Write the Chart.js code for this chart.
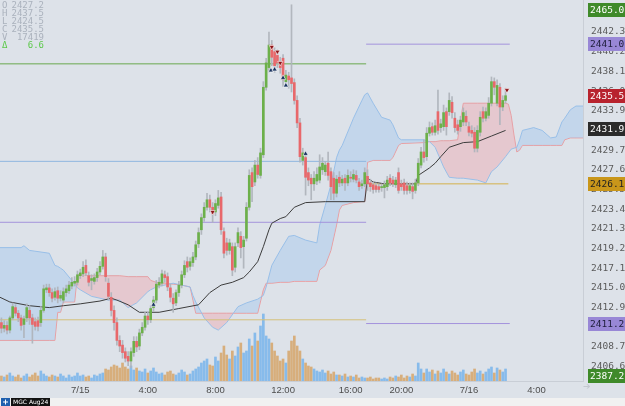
<!DOCTYPE html>
<html>
<head>
<meta charset="utf-8">
<script src="https://cdn.jsdelivr.net/npm/chart.js@4.4.1/dist/chart.umd.min.js"></script>
<style>
  html, body { margin: 0; padding: 0; background: #dde2e9; }
</style>
</head>
<body>
<canvas id="chart" width="625" height="406"></canvas>
<script>
// 10 minute bars, slot 0 = 7/14 19:20, slot 130 = 18:00 after the break
const tickSlots = [28, 52, 76, 100, 124, 142, 166, 190];
const tickLabels = ['7/15', '4:00', '8:00', '12:00', '16:00', '20:00', '7/16', '4:00'];
const priceTicks = [2406.6, 2408.7, 2410.8, 2412.9, 2415.0, 2417.1, 2419.2, 2421.3, 2423.4, 2425.5,
  2427.6, 2429.7, 2431.8, 2433.9, 2436.0, 2438.1, 2440.2, 2442.3, 2444.4];

const opens = [
  2411.3, 2410.7, 2411.0, 2410.5, 2411.8, 2412.9, 2412.3, 2411.8, 2411.1, 2411.8,
  2412.6, 2411.8, 2411.4, 2411.5, 2411.3, 2412.6, 2414.8, 2415.0, 2414.5, 2414.0,
  2414.7, 2413.9, 2413.7, 2414.5, 2414.7, 2415.2, 2415.5, 2415.6, 2416.3, 2416.5,
  2417.4, 2416.3, 2415.8, 2415.7, 2416.1, 2416.7, 2417.3, 2418.3, 2415.5, 2414.0,
  2412.6, 2411.3, 2409.4, 2408.9, 2408.2, 2407.7, 2407.2, 2408.1, 2409.3, 2408.8,
  2410.2, 2410.8, 2412.0, 2411.6, 2412.9, 2413.7, 2415.3, 2415.5, 2416.4, 2416.2,
  2415.0, 2413.9, 2413.4, 2414.5, 2415.3, 2416.4, 2417.8, 2417.3, 2417.7, 2418.3,
  2419.7, 2421.2, 2422.5, 2423.6, 2424.4, 2423.6, 2423.1, 2423.8, 2424.7, 2421.0,
  2419.8, 2419.0, 2419.4, 2417.2, 2419.8, 2420.5, 2419.4, 2420.3, 2423.6, 2427.3,
  2426.3, 2428.1, 2427.0, 2429.2, 2436.4, 2438.5, 2440.9, 2440.2, 2439.8, 2439.1,
  2439.5, 2437.0, 2437.6, 2437.4, 2436.9, 2435.0, 2432.6, 2428.6, 2428.9, 2427.3,
  2426.7, 2426.1, 2426.4, 2426.5, 2427.6, 2427.4, 2428.3, 2427.4, 2426.7, 2425.1,
  2426.8, 2426.2, 2426.7, 2426.2, 2426.8, 2426.6, 2427.0, 2426.3, 2425.9, 2426.1,
  2426.9, 2426.2, 2426.0, 2425.9, 2425.8, 2425.7, 2425.7, 2425.8, 2426.7, 2426.5,
  2426.0, 2427.3, 2426.1, 2426.2, 2425.9, 2425.4, 2425.8, 2425.4, 2426.2, 2428.1,
  2429.5, 2429.0, 2431.5, 2432.2, 2431.6, 2433.8, 2432.1, 2432.2, 2433.8, 2433.8,
  2434.8, 2433.1, 2432.4, 2432.2, 2432.7, 2433.3, 2432.2, 2431.8, 2431.6, 2429.9,
  2431.6, 2433.8, 2433.1, 2433.4, 2434.7, 2437.0, 2434.7, 2436.4, 2434.3, 2435.0
];
const highs = [
  2411.8, 2411.5, 2411.4, 2412.0, 2413.4, 2413.2, 2412.6, 2412.1, 2412.0, 2413.3,
  2413.1, 2412.2, 2411.8, 2411.9, 2413.0, 2415.3, 2415.4, 2415.4, 2414.9, 2415.0,
  2415.1, 2414.7, 2415.0, 2415.3, 2415.7, 2416.1, 2416.2, 2416.8, 2417.0, 2417.8,
  2418.0, 2416.7, 2416.4, 2416.5, 2417.1, 2417.8, 2419.0, 2418.7, 2416.0, 2414.5,
  2413.1, 2411.8, 2409.9, 2409.4, 2408.6, 2408.2, 2408.6, 2409.8, 2409.8, 2410.6,
  2411.3, 2412.4, 2412.4, 2413.1, 2414.1, 2415.8, 2416.1, 2416.9, 2416.8, 2416.6,
  2415.4, 2414.4, 2414.8, 2415.7, 2416.8, 2417.9, 2418.3, 2418.2, 2418.8, 2420.0,
  2421.4, 2422.9, 2424.1, 2425.1, 2424.9, 2424.1, 2424.4, 2425.4, 2425.2, 2421.4,
  2420.3, 2420.2, 2419.8, 2419.8, 2421.4, 2421.0, 2420.5, 2424.1, 2427.6, 2427.8,
  2428.6, 2428.9, 2429.9, 2437.0, 2439.5, 2442.3, 2441.4, 2440.6, 2440.4, 2439.6,
  2439.9, 2438.2, 2438.0, 2445.2, 2437.3, 2435.5, 2433.1, 2429.9, 2429.3, 2427.8,
  2427.1, 2427.4, 2427.8, 2429.2, 2428.9, 2428.5, 2429.5, 2427.8, 2427.3, 2427.0,
  2427.4, 2427.0, 2427.1, 2427.6, 2427.4, 2427.6, 2427.5, 2426.7, 2426.5, 2427.8,
  2427.6, 2426.6, 2426.3, 2426.2, 2426.1, 2426.1, 2426.4, 2426.9, 2427.1, 2426.9,
  2426.8, 2427.8, 2426.5, 2426.6, 2426.3, 2426.2, 2426.2, 2426.6, 2428.8, 2430.0,
  2430.8, 2432.1, 2432.7, 2432.6, 2432.9, 2436.1, 2433.0, 2434.5, 2434.2, 2435.8,
  2435.4, 2433.7, 2432.9, 2433.3, 2434.2, 2433.9, 2432.7, 2432.3, 2432.1, 2432.3,
  2433.8, 2434.3, 2434.2, 2435.3, 2437.5, 2437.4, 2437.2, 2436.8, 2435.5, 2436.3
];
const lows = [
  2410.2, 2410.3, 2410.1, 2410.2, 2411.6, 2412.0, 2411.4, 2410.5, 2409.7, 2411.4,
  2411.1, 2409.1, 2410.5, 2410.4, 2410.9, 2412.4, 2414.5, 2414.1, 2413.5, 2413.7,
  2413.4, 2413.6, 2413.4, 2414.1, 2414.4, 2414.9, 2415.2, 2415.3, 2416.0, 2416.2,
  2416.3, 2415.2, 2414.8, 2415.4, 2415.7, 2416.4, 2417.0, 2415.7, 2413.7, 2412.0,
  2410.5, 2408.9, 2408.2, 2407.5, 2407.1, 2406.7, 2406.5, 2407.7, 2408.2, 2408.4,
  2409.9, 2410.5, 2411.1, 2411.3, 2412.5, 2413.4, 2415.0, 2415.2, 2415.6, 2414.7,
  2413.5, 2412.4, 2413.1, 2414.1, 2415.0, 2416.1, 2416.7, 2416.9, 2417.3, 2418.0,
  2419.3, 2420.7, 2422.1, 2423.3, 2423.1, 2422.0, 2422.7, 2423.5, 2420.7, 2418.2,
  2418.5, 2418.6, 2416.3, 2416.7, 2419.4, 2418.2, 2417.1, 2420.0, 2423.3, 2424.2,
  2425.9, 2426.7, 2426.7, 2428.9, 2436.1, 2438.0, 2438.7, 2438.0, 2438.5, 2437.9,
  2436.5, 2436.5, 2436.3, 2435.9, 2434.6, 2432.1, 2428.4, 2428.1, 2424.9, 2425.9,
  2424.4, 2425.4, 2426.0, 2426.2, 2427.1, 2427.0, 2426.5, 2424.4, 2424.4, 2424.7,
  2425.8, 2425.9, 2425.4, 2425.9, 2426.3, 2426.3, 2426.2, 2425.4, 2425.6, 2425.8,
  2425.4, 2425.3, 2425.1, 2425.2, 2425.2, 2425.3, 2424.6, 2425.4, 2425.9, 2425.8,
  2425.7, 2425.1, 2425.4, 2425.0, 2425.0, 2425.1, 2424.5, 2425.1, 2425.9, 2427.8,
  2428.4, 2428.6, 2431.2, 2431.3, 2431.3, 2431.4, 2431.6, 2431.8, 2431.3, 2433.4,
  2433.1, 2431.6, 2431.4, 2431.7, 2432.3, 2432.3, 2431.2, 2431.1, 2429.5, 2429.5,
  2431.2, 2432.7, 2432.8, 2433.1, 2434.4, 2435.6, 2434.4, 2432.4, 2433.9, 2434.7
];
const closes = [
  2410.7, 2411.0, 2410.5, 2411.8, 2413.0, 2412.3, 2411.8, 2411.0, 2411.7, 2412.9,
  2411.8, 2411.1, 2410.9, 2410.9, 2412.6, 2414.9, 2415.0, 2414.5, 2413.9, 2414.6,
  2413.9, 2414.2, 2414.6, 2414.9, 2415.3, 2415.6, 2415.7, 2416.4, 2416.6, 2417.2,
  2416.6, 2415.6, 2416.0, 2416.1, 2416.7, 2417.3, 2418.3, 2416.2, 2414.1, 2412.6,
  2411.3, 2409.4, 2408.8, 2408.1, 2407.5, 2407.2, 2408.2, 2409.3, 2408.7, 2410.2,
  2410.8, 2412.0, 2411.6, 2412.8, 2413.7, 2415.4, 2415.6, 2416.5, 2416.1, 2415.1,
  2414.0, 2413.3, 2414.5, 2415.3, 2416.4, 2417.4, 2417.2, 2417.8, 2418.3, 2419.6,
  2420.9, 2422.5, 2423.6, 2424.4, 2423.6, 2422.9, 2424.0, 2424.6, 2421.2, 2418.7,
  2419.0, 2419.8, 2416.9, 2419.4, 2420.9, 2419.3, 2420.1, 2423.6, 2427.0, 2425.8,
  2428.1, 2427.1, 2429.4, 2436.4, 2439.0, 2440.9, 2439.6, 2438.7, 2439.0, 2438.5,
  2437.2, 2437.7, 2437.2, 2436.8, 2435.0, 2432.6, 2429.0, 2429.4, 2426.8, 2426.5,
  2426.1, 2426.7, 2427.1, 2427.9, 2428.3, 2428.1, 2427.0, 2425.8, 2425.1, 2426.6,
  2426.2, 2426.6, 2426.2, 2427.0, 2426.7, 2427.1, 2426.5, 2425.8, 2426.1, 2427.3,
  2426.1, 2425.8, 2425.5, 2425.5, 2425.5, 2425.8, 2426.0, 2426.5, 2426.2, 2426.1,
  2426.5, 2425.4, 2425.8, 2425.4, 2425.4, 2425.9, 2425.3, 2426.2, 2428.3, 2429.5,
  2428.9, 2431.5, 2432.1, 2431.6, 2432.3, 2431.8, 2432.5, 2433.7, 2432.2, 2435.0,
  2433.7, 2432.1, 2431.8, 2432.9, 2433.7, 2432.7, 2431.6, 2431.5, 2429.9, 2431.8,
  2433.2, 2433.1, 2433.8, 2434.7, 2437.0, 2436.4, 2436.6, 2434.3, 2435.0, 2435.5
];
const volumes = [
  100, 80, 120, 160, 100, 80, 120, 60, 100, 140,
  80, 120, 160, 100, 200, 140, 100, 80, 120, 100,
  80, 140, 100, 60, 120, 80, 100, 160, 100, 120,
  80, 100, 60, 120, 100, 140, 160, 240, 220, 280,
  320, 300, 260, 360, 280, 240, 300, 220, 260, 200,
  180, 240, 160, 200, 260, 180, 140, 160, 120, 180,
  200, 140, 120, 160, 220, 180, 120, 140, 200, 240,
  280, 360, 400, 440, 320, 300, 480, 400, 560, 700,
  520, 440, 600, 500, 680, 760, 560, 600, 840, 700,
  960, 800, 1100, 1340, 900, 840, 760, 600, 500, 400,
  440, 360, 600, 800, 900, 700, 600, 440, 360, 300,
  280, 240, 200, 180, 220, 160, 200, 140, 180, 120,
  120, 100, 140, 80, 100, 80, 120, 60, 80, 60,
  60, 80, 40, 60, 60, 40, 60, 40, 80, 60,
  100, 80, 120, 60, 100, 80, 140, 100, 360, 240,
  160, 240, 180, 220, 140, 200, 160, 240, 180, 140,
  200, 160, 120, 180, 220, 140, 120, 180, 240, 160,
  200, 140, 180, 240, 280, 160, 260, 220, 180, 240
];

// Ichimoku cloud (shifted 26 bars ahead), read at its corners
const cloudSlots = [-0.5, 7, 8, 10, 17, 19, 20, 21, 22, 25, 26, 27, 28, 32, 38, 42, 45, 48, 52, 53, 55, 61, 64, 67, 68, 69,
  72, 75, 77, 80, 84, 87, 90, 91, 93, 94, 96, 99, 102, 104, 108, 112, 113, 115, 117, 119, 120, 121, 125, 128, 129,
  130, 132, 135, 138, 139, 141, 142, 150, 152, 154, 156, 157, 159, 162, 163, 164, 169, 172, 174, 176, 179, 180,
  181, 182, 183, 184, 185, 189, 192, 195, 197, 199, 200, 202, 204, 206.5];
const spanA = [2419.3, 2419.3, 2419.5, 2419.0, 2418.7, 2417.4, 2417.3, 2417.1, 2416.9, 2415.8, 2415.5, 2415.0, 2414.8,
  2414.1, 2413.7, 2413.7, 2412.9, 2413.4, 2414.6, 2414.8, 2415.1, 2415.5, 2415.3, 2415.1, 2414.2, 2413.5,
  2411.8, 2410.8, 2410.5, 2411.3, 2413.0, 2413.4, 2413.7, 2413.8, 2414.2, 2415.1, 2417.4, 2419.0, 2420.5, 2420.6,
  2420.1, 2419.8, 2421.7, 2423.8, 2426.0, 2428.9, 2429.7, 2430.2, 2433.1, 2435.0, 2435.6,
  2435.8, 2434.7, 2433.2, 2432.9, 2432.4, 2431.0, 2430.8, 2430.8, 2430.6, 2430.0, 2428.6, 2427.9, 2426.8, 2426.7,
  2426.7, 2426.7, 2426.5, 2426.2, 2427.4, 2427.9, 2429.0, 2429.4,
  2429.8, 2429.9, 2430.0, 2430.8, 2431.8, 2432.1, 2431.8, 2431.0, 2431.1, 2432.7, 2433.1, 2434.0, 2434.4, 2434.4];
const spanB = [2409.4, 2409.4, 2409.4, 2409.4, 2409.4, 2409.4, 2412.4, 2412.4, 2413.5, 2413.5, 2413.5, 2416.4, 2416.4,
  2416.3, 2416.3, 2416.3, 2416.2, 2416.2, 2416.2, 2415.8, 2415.6, 2415.4, 2415.3, 2415.1, 2413.7, 2412.3,
  2412.3, 2412.3, 2412.3, 2412.3, 2412.3, 2412.3, 2412.3, 2412.3, 2414.8, 2415.5, 2415.5, 2415.6, 2415.6, 2415.7,
  2415.7, 2415.7, 2416.9, 2417.4, 2419.0, 2421.7, 2423.3, 2423.8, 2424.1, 2424.2, 2424.2,
  2428.4, 2428.6, 2428.6, 2428.6, 2428.9, 2430.2, 2430.4, 2430.5, 2430.6, 2430.6, 2430.7, 2430.7, 2430.7, 2430.8,
  2432.9, 2434.7, 2434.7, 2434.7, 2434.7, 2434.7, 2434.7, 2434.6,
  2433.4, 2431.3, 2429.5, 2429.7, 2430.2, 2430.2, 2430.2, 2430.2, 2430.2, 2430.2, 2430.8, 2431.0, 2431.0, 2431.0];

// session VWAP, resets at 18:00
const vwapSlots = [-0.5, 3, 10, 17, 22, 28, 35, 39, 41, 45, 49, 53, 56, 63, 70, 74, 78, 82, 86, 88, 91, 93, 95, 96, 99,
  101, 104, 108, 115, 129, 130, 132, 136, 147, 148, 152, 154, 156, 159, 164, 169, 174, 179];
const vwapValues = [2414.0, 2413.5, 2413.1, 2412.9, 2413.1, 2413.3, 2413.6, 2413.9, 2413.7, 2413.2, 2412.4, 2412.4,
  2412.4, 2412.8, 2413.2, 2414.5, 2415.3, 2415.6, 2416.1, 2416.7, 2417.8, 2419.4, 2421.2, 2421.9, 2422.4,
  2422.6, 2423.6, 2424.1, 2424.2, 2424.2, 2426.7, 2426.3, 2426.1, 2426.1, 2427.0, 2427.8, 2428.3, 2429.0,
  2430.0, 2430.5, 2430.6, 2431.2, 2431.8];

// horizontal levels
const levelValues = [2438.9, 2428.5, 2422.0, 2411.6, 2441.0, 2426.1, 2411.2];
const levelFrom = [-0.5, -0.5, -0.5, -0.5, 129.5, 129.5, 129.5];
const levelTo = [129.5, 129.5, 129.5, 129.5, 180.5, 180, 180.5];
const levelColors = ['#6aa84f', '#8fb6e0', '#a493dc', '#d4c07a', '#a493dc', '#d4b24c', '#a493dc'];

// signal arrows
const sellSlots = [96, 98, 99, 75, 179.5];
const sellPrices = [2440.7, 2440.2, 2439.0, 2423.1, 2436.1];
const buySlots = [95.7, 97, 100, 101, 108, 54];
const buyPrices = [2438.2, 2438.3, 2437.4, 2436.6, 2429.3, 2413.2];

// price tags on the axis
const tagValues = [2465.0, 2441.0, 2435.5, 2431.9, 2426.1, 2411.2, 2387.2];
const tagColors = ['#3f8a2a', '#9887d6', '#b8232e', '#2b2b2b', '#c9961a', '#9887d6', '#3f8a2a'];
const tagText = ['#fff', '#1d1d3a', '#fff', '#fff', '#222', '#1d1d3a', '#fff'];

const infoRows = [['O', '2427.2'], ['H', '2437.5'], ['L', '2424.5'], ['C', '2435.5'], ['V', '17419'], ['\u0394', '6.6']];

const yMin = 2405.07, yMax = 2445.71;

const slots = opens.map((o, i) => i);
const up = slots.map(i => closes[i] >= opens[i]);

const datasets = [];
datasets.push({
  type: 'line', label: 'spanB', order: 20,
  data: cloudSlots.map((x, i) => ({ x, y: spanB[i] })),
  borderColor: 'rgba(238,150,150,0.9)', borderWidth: 1, pointRadius: 0, tension: 0
});
datasets.push({
  type: 'line', label: 'spanA', order: 19,
  data: cloudSlots.map((x, i) => ({ x, y: spanA[i] })),
  borderColor: 'rgba(150,190,232,0.95)', borderWidth: 1, pointRadius: 0, tension: 0,
  fill: { target: 0, above: 'rgba(165,200,238,0.45)', below: 'rgba(240,165,172,0.42)' }
});
datasets.push({
  type: 'bar', label: 'volume', order: 15, yAxisID: 'yv', grouped: false, barThickness: 2,
  data: slots.map(i => ({ x: i, y: volumes[i] })),
  backgroundColor: slots.map(i => up[i] ? 'rgba(120,180,235,0.85)' : 'rgba(214,168,112,0.9)')
});
levelValues.forEach((v, k) => {
  datasets.push({
    type: 'line', label: 'level' + k, order: 12,
    data: [{ x: levelFrom[k], y: v }, { x: levelTo[k], y: v }],
    borderColor: levelColors[k], borderWidth: 1, pointRadius: 0
  });
});
datasets.push({
  type: 'line', label: 'vwap', order: 8,
  data: vwapSlots.map((x, i) => ({ x, y: vwapValues[i] })),
  borderColor: '#3d3d3d', borderWidth: 1, pointRadius: 0, tension: 0
});
datasets.push({
  type: 'bar', label: 'wicks', order: 6, grouped: false, barThickness: 1,
  data: slots.map(i => ({ x: i, y: [lows[i], highs[i]] })),
  backgroundColor: 'rgba(175,180,188,0.95)'
});
datasets.push({
  type: 'bar', label: 'bodies', order: 5, grouped: false, barThickness: 2, minBarLength: 1,
  data: slots.map(i => ({ x: i, y: [opens[i], closes[i]] })),
  backgroundColor: slots.map(i => up[i] ? '#6cb04a' : '#e8686b')
});
datasets.push({
  type: 'line', label: 'sell', order: 2, showLine: false,
  data: sellSlots.map((x, i) => ({ x, y: sellPrices[i] })),
  pointStyle: 'triangle', rotation: 180, pointRadius: 3, pointHoverRadius: 3,
  backgroundColor: '#8e1418', borderColor: '#ffffff', borderWidth: 0.6
});
datasets.push({
  type: 'line', label: 'buy', order: 1, showLine: false,
  data: buySlots.map((x, i) => ({ x, y: buyPrices[i] })),
  pointStyle: 'triangle', pointRadius: 3, pointHoverRadius: 3,
  backgroundColor: '#16305e', borderColor: '#ffffff', borderWidth: 0.6
});

const decor = {
  id: 'decor',
  beforeDraw(chart) {
    const c = chart.ctx;
    c.save();
    c.fillStyle = '#dde2e9';
    c.fillRect(0, 0, chart.width, chart.height);
    c.restore();
  },
  afterDraw(chart) {
    const c = chart.ctx;
    const ys = chart.scales.y;
    const area = chart.chartArea;
    c.save();
    // ohlc readout
    c.font = '9px "DejaVu Sans Mono"';
    c.textBaseline = 'middle';
    infoRows.forEach((r, k) => {
      c.fillStyle = k === 5 ? '#5cc94a' : 'rgba(168,175,187,0.95)';
      c.textAlign = 'left';
      c.fillText(r[0], 2, 6 + k * 8);
      c.textAlign = 'right';
      c.fillText(r[1], 44, 6 + k * 8);
    });
    // axis tags
    c.font = '9.5px "DejaVu Sans Mono"';
    c.textAlign = 'left';
    tagValues.forEach((v, k) => {
      let y = ys.getPixelForValue(v);
      y = Math.max(10, Math.min(area.bottom - 5, y));
      c.fillStyle = tagColors[k];
      c.fillRect(588, Math.round(y) - 7, 37, 14);
      c.fillStyle = tagText[k];
      c.fillText(v.toFixed(1), 590, Math.round(y) + 0.5);
    });
    // scroll arrow in the axis corner
    c.fillStyle = '#c3c8d0';
    c.font = '9px "DejaVu Sans"';
    c.fillText('\u2794', 583, 387);
    // bottom strip
    c.fillStyle = '#f1f1f1';
    c.fillRect(0, 398, chart.width, 8);
    c.fillStyle = '#1f5fae';
    c.fillRect(1, 398, 9, 8);
    c.fillStyle = '#fff';
    c.fillRect(3, 401.5, 5, 1);
    c.fillRect(5, 399.5, 1, 5);
    c.fillStyle = '#111';
    c.fillRect(11, 398, 39, 8);
    c.fillStyle = '#fff';
    c.font = '6px "DejaVu Sans"';
    c.textAlign = 'left';
    c.fillText('MGC Aug24', 13, 402.5);
    c.restore();
  }
};

new Chart(document.getElementById('chart'), {
  type: 'bar',
  data: { datasets },
  options: {
    responsive: false,
    animation: false,
    devicePixelRatio: 1,
    layout: { padding: 0, autoPadding: false },
    plugins: { legend: { display: false }, tooltip: { enabled: false } },
    scales: {
      x: {
        type: 'linear', min: -0.5, max: 206.5, offset: false,
        grid: { display: false, drawTicks: false },
        border: { display: true, color: '#c9ced6' },
        afterBuildTicks: a => { a.ticks = tickSlots.map(v => ({ value: v })); },
        afterFit: a => { a.height = 25; a.paddingLeft = 0; a.paddingRight = 0; },
        ticks: {
          autoSkip: false, maxRotation: 0, padding: 4, color: '#4d4d4d',
          font: { family: 'Liberation Sans', size: 9.5 },
          callback: v => tickLabels[tickSlots.indexOf(v)]
        }
      },
      y: {
        position: 'right', min: yMin, max: yMax,
        grid: { display: false, drawTicks: false },
        border: { display: true, color: '#c9ced6' },
        afterBuildTicks: a => { a.ticks = priceTicks.map(v => ({ value: v })); },
        afterFit: a => { a.width = 42; a.paddingTop = 0; a.paddingBottom = 0; },
        ticks: {
          padding: 8, color: '#5a5a5a',
          font: { family: 'DejaVu Sans Mono', size: 9.5 },
          callback: v => v.toFixed(1)
        }
      },
      yv: { display: false, min: 0, max: 7620 }
    }
  },
  plugins: [decor]
});
</script>
</body>
</html>
